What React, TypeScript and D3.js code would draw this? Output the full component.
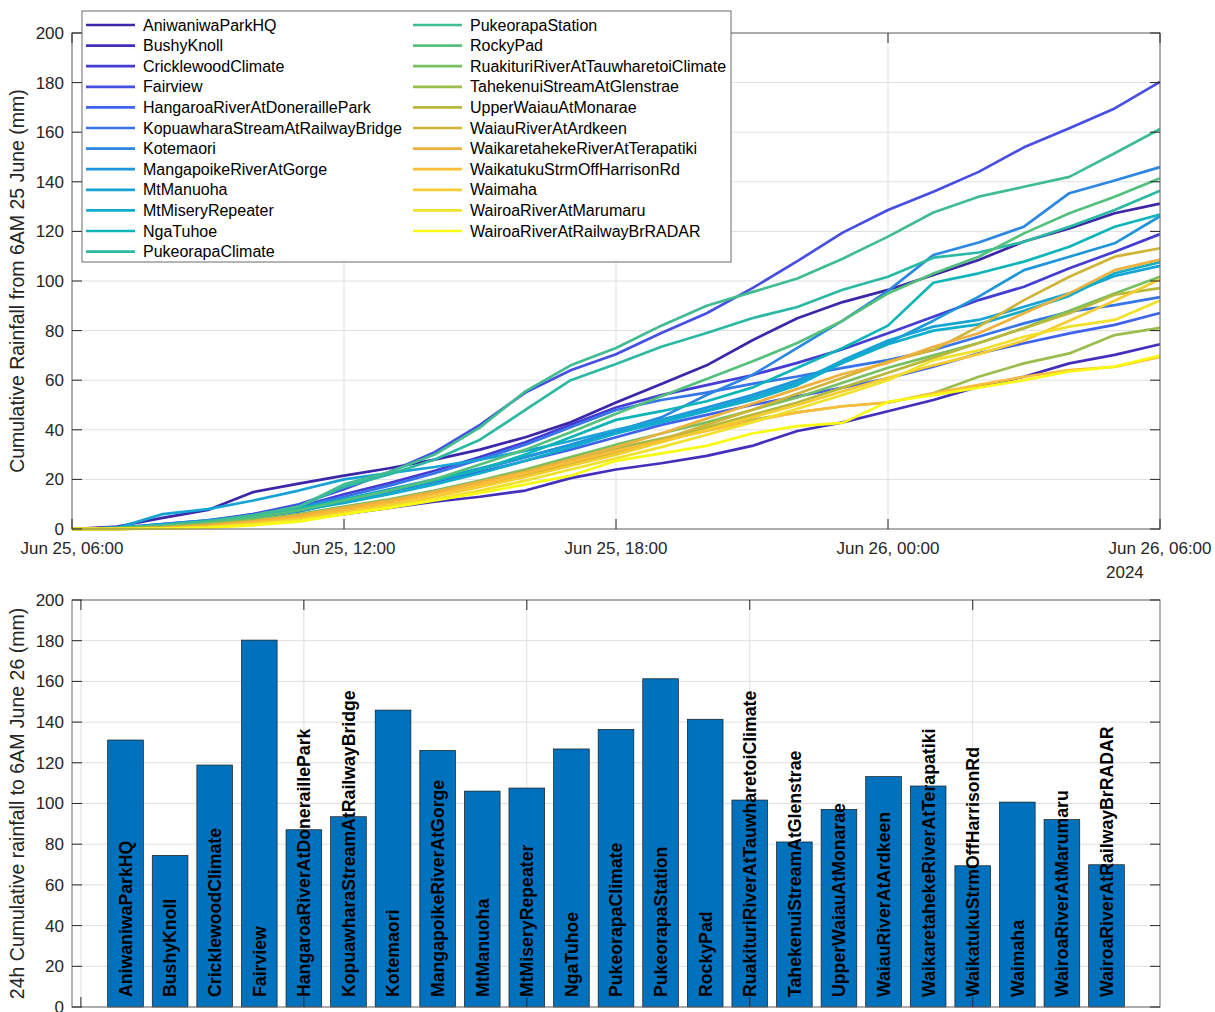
import React from "react";
import * as d3 from "d3";

// ---------- DATA ----------
const stationNames = [
  "AniwaniwaParkHQ",
  "BushyKnoll",
  "CricklewoodClimate",
  "Fairview",
  "HangaroaRiverAtDoneraillePark",
  "KopuawharaStreamAtRailwayBridge",
  "Kotemaori",
  "MangapoikeRiverAtGorge",
  "MtManuoha",
  "MtMiseryRepeater",
  "NgaTuhoe",
  "PukeorapaClimate",
  "PukeorapaStation",
  "RockyPad",
  "RuakituriRiverAtTauwharetoiClimate",
  "TahekenuiStreamAtGlenstrae",
  "UpperWaiauAtMonarae",
  "WaiauRiverAtArdkeen",
  "WaikaretahekeRiverAtTerapatiki",
  "WaikatukuStrmOffHarrisonRd",
  "Waimaha",
  "WairoaRiverAtMarumaru",
  "WairoaRiverAtRailwayBrRADAR",
];

// hourly cumulative rainfall (mm), 06:00 25 Jun -> 06:00 26 Jun
const aniwaniwaParkHQ = [0, 1, 4.5, 7.7, 14.9, 18.3, 21.5, 24.5, 28, 32, 37, 43, 51, 58.5, 66, 76, 85, 91.5, 96.4, 102.4, 108.5, 115.9, 121.2, 127.3, 131.2];
const bushyKnoll = [0, 0, 0.3, 1, 2.5, 4, 6, 8.5, 11, 13, 15.5, 20.5, 24, 26.5, 29.5, 33.5, 39.5, 43, 47.5, 52, 57.4, 61.4, 66.8, 70.2, 74.5];
const cricklewoodClimate = [0, 0.5, 2, 3.5, 6, 9, 14, 18.5, 23.5, 29, 35, 42, 49, 54, 58, 62, 67, 72.5, 78.9, 85.6, 92.3, 97.7, 105.1, 111.8, 118.9];
const fairview = [0, 0.5, 1.5, 3, 6, 10, 16, 23, 31, 42, 55, 64, 70.5, 79, 87, 97, 108, 119.5, 128.6, 136, 144, 153.9, 161.6, 169.6, 180.3];
const hangaroaRiver = [0, 0.3, 1.5, 3, 5, 8, 11.5, 15, 19, 23, 27.5, 32, 37, 42, 46, 50, 53.5, 57, 60.8, 65.4, 70.8, 74.9, 78.9, 82.3, 87.1];
const kopuawharaStream = [0, 0.3, 1.5, 3, 5.5, 9, 13, 17.5, 22.5, 28, 34, 41, 48, 52, 55, 58.5, 61.5, 65, 68.1, 72.2, 77.5, 82.9, 87.6, 90.3, 93.5];
const kotemaori = [0, 0.3, 1, 2.5, 4.5, 7, 11, 15, 19.5, 24, 29, 34, 39.5, 45, 54, 62, 73, 84, 96, 110.5, 115.5, 121.9, 135.4, 140.5, 145.9];
const mangapoikeRiver = [0, 0.5, 2, 3.5, 5.5, 8.5, 12, 16, 20, 24.5, 29, 34, 39, 44, 49, 54, 60, 67, 75, 84, 93.7, 104.4, 109.8, 115.2, 126.1];
const mtManuoha = [0, 0.5, 6, 8, 11.5, 15.5, 20, 22.5, 25, 28, 31.5, 35.5, 40, 44, 48, 53, 59, 68, 76, 81.6, 84.3, 89.6, 95, 102, 106.1];
const mtMiseryRepeater = [0, 0.3, 1.5, 3, 5, 7.5, 10.5, 14, 18, 22.5, 27.5, 33, 38.5, 43, 47.5, 52, 58, 67, 74.5, 80, 82.5, 88, 94, 103.1, 107.6];
const ngaTuhoe = [0, 0.3, 1.5, 3, 5, 8, 12, 15.5, 19.5, 24, 30, 37, 44, 47.5, 51.5, 57, 65, 73, 82, 99.3, 103.1, 107.8, 113.8, 121.9, 126.8];
const pukeorapaClimate = [0, 0.5, 1.5, 3, 5.5, 9, 17, 22, 28, 36, 48, 60, 66.5, 73.5, 79, 85, 89.5, 96.5, 101.7, 109.4, 111.5, 115.8, 121.9, 128.6, 136.4];
const pukeorapaStation = [0, 0.5, 1.5, 3, 5.5, 9, 18, 23, 30, 41, 55.5, 66, 73, 82, 90, 95.5, 101, 109, 117.9, 127.6, 134, 138, 142, 151.5, 161.3];
const rockyPad = [0, 0.3, 1, 2.5, 4.5, 7.5, 11.5, 15.5, 20, 26, 32, 39, 46.5, 53.5, 60.5, 67.5, 75, 84, 95, 103, 109.8, 119.2, 127.3, 134, 141.4];
const ruakituriRiver = [0, 0.2, 0.8, 2, 3.5, 6, 9, 12, 15.5, 19.5, 24, 29, 34, 38.5, 43, 48, 53, 59, 65, 70, 75, 81, 88, 95, 101.7];
const tahekenuiStream = [0, 0.2, 0.8, 2, 3.5, 5.5, 8.5, 11.5, 15, 19, 23.5, 28, 32.5, 36.5, 40.5, 44, 47, 49.5, 51, 54.7, 61.4, 66.8, 70.8, 78.2, 81.1];
const upperWaiau = [0, 0, 0.5, 1.5, 3, 5, 8, 11, 14.5, 18.5, 22.5, 27, 31.5, 36, 41, 46, 51, 57, 63, 69, 75, 81, 87, 94.5, 97.1];
const waiauRiver = [0, 0, 0.5, 1.5, 3, 5.5, 8.5, 11.5, 14.5, 18, 22, 26, 30.5, 36, 42, 48, 54.5, 61, 67.5, 72.2, 81.6, 92.3, 101.7, 109.8, 113.2];
const waikaretahekeRiver = [0, 0, 0.5, 1.5, 3, 5.5, 8.5, 11.5, 15, 19, 23, 28, 33, 38.5, 44.5, 50.5, 56.5, 62.5, 67, 73.5, 78.9, 87, 95, 104.4, 108.6];
const waikatukuStrm = [0, 0, 0.3, 1, 2.5, 4.5, 7.5, 10.5, 14, 18, 22.5, 27, 31.5, 35.5, 39.5, 43.5, 47, 49.5, 51, 54.7, 58.1, 61.4, 64.1, 65.4, 69.4];
const waimaha = [0, 0, 0.2, 0.8, 2, 4, 6.5, 9.5, 13, 17, 21, 25.5, 30, 35, 40, 45, 50, 55.5, 61, 66, 70.5, 76, 84, 92, 100.7];
const wairoaMarumaru = [0, 0, 0.2, 0.8, 2, 3.5, 6, 9, 12, 15.5, 19.5, 24, 28.5, 33, 38, 43, 48.5, 54, 60, 68.1, 72, 77.5, 81.6, 84.3, 92.1];
const wairoaRailwayBr = [0, 0, 0.1, 0.5, 1.5, 3, 6, 8.5, 11.5, 14.5, 18, 21.5, 27.5, 30.5, 33.5, 38.5, 41.5, 42.8, 51.3, 54, 57, 60, 63.5, 65.5, 69.9];

const seriesValues = [
  aniwaniwaParkHQ, bushyKnoll, cricklewoodClimate, fairview, hangaroaRiver,
  kopuawharaStream, kotemaori, mangapoikeRiver, mtManuoha, mtMiseryRepeater,
  ngaTuhoe, pukeorapaClimate, pukeorapaStation, rockyPad, ruakituriRiver,
  tahekenuiStream, upperWaiau, waiauRiver, waikaretahekeRiver, waikatukuStrm,
  waimaha, wairoaMarumaru, wairoaRailwayBr,
];

const startTime = new Date(2024, 5, 25, 6, 0);
const endTime = new Date(2024, 5, 26, 6, 0);
const topTickLabels = ["Jun 25, 06:00", "Jun 25, 12:00", "Jun 25, 18:00", "Jun 26, 00:00", "Jun 26, 06:00"];
const yTicks = [0, 20, 40, 60, 80, 100, 120, 140, 160, 180, 200];
const barXTicks = [0, 5, 10, 15, 20];

// parula-like colormap anchors (sampled from the reference legend)
const parulaAnchors = [
  "#3e26a8", "#4230bd", "#453dd3", "#474fe3", "#3f63ec", "#3674ea", "#2b86e4",
  "#1f95dc", "#17a3d5", "#0eadcb", "#0db5b8", "#2cb9a3", "#40bd90", "#53c07c",
  "#76c061", "#9bbd4b", "#b8b93b", "#d0b436", "#eeb13e", "#fbbd38", "#f6cc2e",
  "#f1e12a", "#f8fa14",
];
const parula = d3.scaleLinear<string>()
  .domain(parulaAnchors.map((_, i) => i / (parulaAnchors.length - 1)))
  .range(parulaAnchors)
  .interpolate(d3.interpolateRgb);

// ---------- LAYOUT ----------
const W = 1215, H = 1012;
const FONT = "'Liberation Sans', Arial, Helvetica, sans-serif";
const AX = "#262626";
const GRID = "#dfdfdf";
const BOX = "#6b6b6b";

const top = { l: 72, r: 1160, t: 33, b: 529 };
const bot = { l: 72, r: 1160, t: 600, b: 1007 };

export default function App() {
  const times = d3.range(seriesValues[0].length).map((h) => d3.timeHour.offset(startTime, h));
  const x = d3.scaleTime().domain([startTime, endTime]).range([top.l, top.r]);
  const y = d3.scaleLinear().domain([0, 200]).range([top.b, top.t]);
  const xTickTimes = d3.timeHour.every(6)!.range(startTime, d3.timeHour.offset(endTime, 1));

  const xb = d3.scaleLinear().domain([-0.2, 24.2]).range([bot.l, bot.r]);
  const yb = d3.scaleLinear().domain([0, 200]).range([bot.b, bot.t]);

  const line = d3
    .line<number>()
    .x((_, i) => x(times[i]))
    .y((d) => y(d));

  const colors = stationNames.map((_, i) => parula(i / (stationNames.length - 1)));
  const totals = seriesValues.map((s) => s[s.length - 1]);
  const tickLen = 10;
  const barW = xb(0.8) - xb(0);

  const rowsLeft = 12;
  const legend = { x: 82, y: 11, w: 649, h: 251 };

  return (
    <svg width={W} height={H} style={{ position: "absolute", left: 0, top: 0, background: "#fff" }} fontFamily={FONT}>
      <rect x={0} y={0} width={W} height={H} fill="#fff" />
      {/* ---------- TOP CHART ---------- */}
      <g>
        {yTicks.map((t) => (
          <line key={"gy" + t} x1={top.l} x2={top.r} y1={y(t)} y2={y(t)} stroke={GRID} strokeWidth={1} />
        ))}
        {xTickTimes.map((t, i) => (
          <line key={"gx" + i} x1={x(t)} x2={x(t)} y1={top.t} y2={top.b} stroke={GRID} strokeWidth={1} />
        ))}
        {seriesValues.map((s, i) => (
          <path key={"ln" + i} d={line(s) || ""} fill="none" stroke={colors[i]} strokeWidth={2.7} strokeLinejoin="round" />
        ))}
        <rect x={top.l} y={top.t} width={top.r - top.l} height={top.b - top.t} fill="none" stroke={BOX} strokeWidth={1} />
        {yTicks.map((t) => (
          <g key={"ty" + t}>
            <line x1={top.l} x2={top.l + tickLen} y1={y(t)} y2={y(t)} stroke={AX} strokeWidth={1} />
            <line x1={top.r} x2={top.r - tickLen} y1={y(t)} y2={y(t)} stroke={AX} strokeWidth={1} />
            <text x={top.l - 8} y={y(t)} dy="0.35em" textAnchor="end" fontSize={17} fill={AX}>{t}</text>
          </g>
        ))}
        {xTickTimes.map((t, i) => (
          <g key={"tx" + i}>
            <line x1={x(t)} x2={x(t)} y1={top.b} y2={top.b - tickLen} stroke={AX} strokeWidth={1} />
            <line x1={x(t)} x2={x(t)} y1={top.t} y2={top.t + tickLen} stroke={AX} strokeWidth={1} />
            <text x={x(t)} y={top.b + 25} textAnchor="middle" fontSize={17} fill={AX}>{topTickLabels[i]}</text>
          </g>
        ))}
        <text x={x(endTime) - 54} y={top.b + 49} textAnchor="start" fontSize={17} fill={AX}>2024</text>
        <text
          transform={`translate(24, ${(top.t + top.b) / 2}) rotate(-90)`}
          textAnchor="middle"
          fontSize={19.5}
          fill={AX}
        >
          Cumulative Rainfall from 6AM 25 June (mm)
        </text>

        {/* legend */}
        <rect x={legend.x} y={legend.y} width={legend.w} height={legend.h} fill="#fff" stroke={BOX} strokeWidth={1} />
        {stationNames.map((name, i) => {
          const col = i < rowsLeft ? 0 : 1;
          const row = col === 0 ? i : i - rowsLeft;
          const cy = 25 + row * 20.6;
          const lx = col === 0 ? 86 : 413;
          return (
            <g key={"lg" + i}>
              <line x1={lx} x2={lx + 49} y1={cy} y2={cy} stroke={colors[i]} strokeWidth={2.7} />
              <text x={lx + 57} y={cy} dy="0.35em" fontSize={16} fill="#000">{name}</text>
            </g>
          );
        })}
      </g>

      {/* ---------- BOTTOM CHART ---------- */}
      <g>
        {yTicks.map((t) => (
          <line key={"bgy" + t} x1={bot.l} x2={bot.r} y1={yb(t)} y2={yb(t)} stroke={GRID} strokeWidth={1} />
        ))}
        {barXTicks.map((t) => (
          <line key={"bgx" + t} x1={xb(t)} x2={xb(t)} y1={bot.t} y2={bot.b} stroke={GRID} strokeWidth={1} />
        ))}
        {totals.map((v, i) => (
          <rect
            key={"bar" + i}
            x={xb(i + 1) - barW / 2}
            y={yb(v)}
            width={barW}
            height={yb(0) - yb(v)}
            fill="#0072bd"
            stroke="#1a1a1a"
            strokeWidth={0.7}
          />
        ))}
        <rect x={bot.l} y={bot.t} width={bot.r - bot.l} height={bot.b - bot.t} fill="none" stroke={BOX} strokeWidth={1} />
        {yTicks.map((t) => (
          <g key={"bty" + t}>
            <line x1={bot.l} x2={bot.l + tickLen} y1={yb(t)} y2={yb(t)} stroke={AX} strokeWidth={1} />
            <line x1={bot.r} x2={bot.r - tickLen} y1={yb(t)} y2={yb(t)} stroke={AX} strokeWidth={1} />
            <text x={bot.l - 8} y={yb(t)} dy="0.35em" textAnchor="end" fontSize={17} fill={AX}>{t}</text>
          </g>
        ))}
        {barXTicks.map((t) => (
          <g key={"btx" + t}>
            <line x1={xb(t)} x2={xb(t)} y1={bot.t} y2={bot.t + tickLen} stroke={AX} strokeWidth={1} />
            <line x1={xb(t)} x2={xb(t)} y1={bot.b} y2={bot.b - tickLen} stroke={AX} strokeWidth={1} />
          </g>
        ))}
        {stationNames.map((name, i) => (
          <text
            key={"bl" + i}
            transform={`translate(${xb(i + 1)}, ${yb(0) - 10}) rotate(-90)`}
            dy="0.36em"
            textAnchor="start"
            fontSize={17.7}
            fontWeight="bold"
            fill="#000"
          >
            {name}
          </text>
        ))}
        <text
          transform={`translate(24, ${(bot.t + bot.b) / 2}) rotate(-90)`}
          textAnchor="middle"
          fontSize={19.5}
          fill={AX}
        >
          24h Cumulative rainfall to 6AM June 26 (mm)
        </text>
      </g>
    </svg>
  );
}
